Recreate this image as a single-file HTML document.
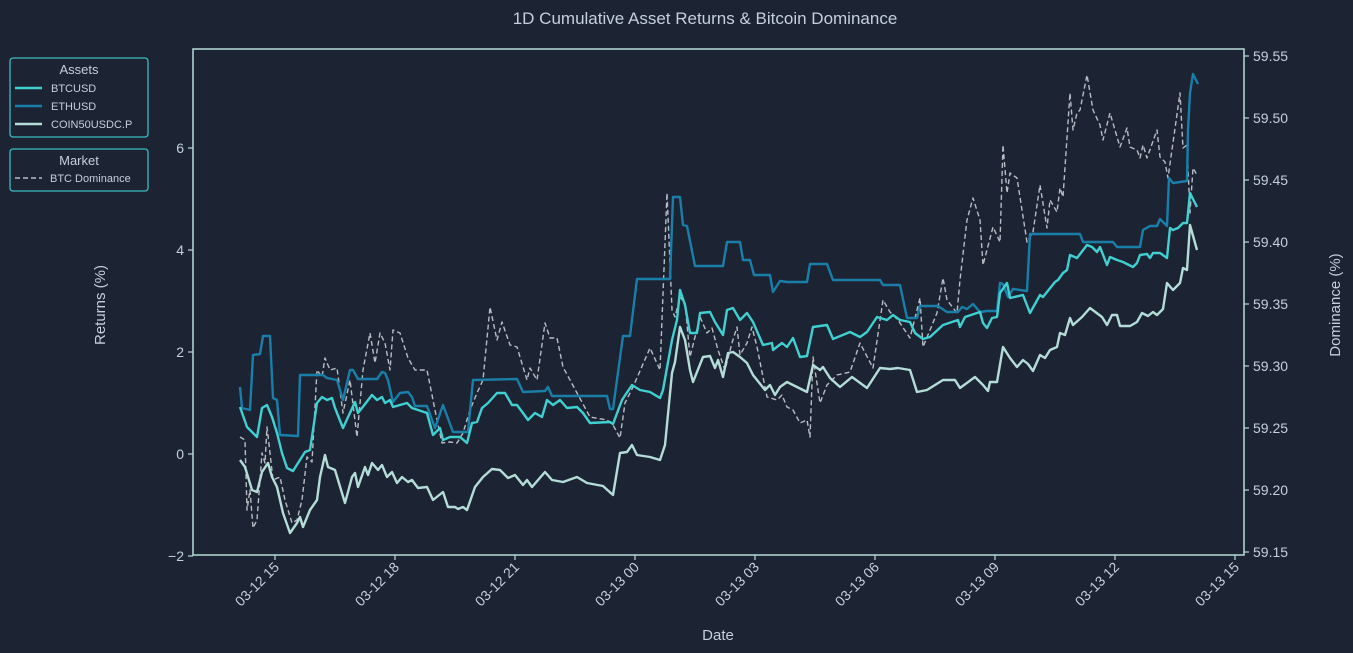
<!DOCTYPE html>
<html><head><meta charset="utf-8"><style>
body{margin:0;background:#1c2333;}
svg{display:block;font-family:"Liberation Sans",sans-serif;}
</style></head><body>
<svg width="1353" height="653" viewBox="0 0 1353 653" xmlns="http://www.w3.org/2000/svg">
<rect width="1353" height="653" fill="#1c2333"/>
<text x="705" y="24" text-anchor="middle" font-size="17" fill="#c4d0dc">1D Cumulative Asset Returns &amp; Bitcoin Dominance</text>
<!-- axes frame -->
<rect x="193" y="49" width="1051" height="506" fill="none" stroke="#b8dcd8" stroke-width="1.5"/>
<g stroke="#b8dcd8" stroke-width="1.2">
<line x1="188" y1="148" x2="193" y2="148"/><line x1="188" y1="250" x2="193" y2="250"/><line x1="188" y1="352" x2="193" y2="352"/><line x1="188" y1="454" x2="193" y2="454"/><line x1="188" y1="556" x2="193" y2="556"/>
<line x1="1244" y1="56" x2="1249" y2="56"/><line x1="1244" y1="118" x2="1249" y2="118"/><line x1="1244" y1="180" x2="1249" y2="180"/><line x1="1244" y1="242" x2="1249" y2="242"/><line x1="1244" y1="304" x2="1249" y2="304"/><line x1="1244" y1="366" x2="1249" y2="366"/><line x1="1244" y1="428" x2="1249" y2="428"/><line x1="1244" y1="490" x2="1249" y2="490"/><line x1="1244" y1="552" x2="1249" y2="552"/>
<line x1="275" y1="555" x2="275" y2="560"/><line x1="395" y1="555" x2="395" y2="560"/><line x1="515" y1="555" x2="515" y2="560"/><line x1="635" y1="555" x2="635" y2="560"/><line x1="755" y1="555" x2="755" y2="560"/><line x1="875" y1="555" x2="875" y2="560"/><line x1="995" y1="555" x2="995" y2="560"/><line x1="1115" y1="555" x2="1115" y2="560"/><line x1="1235" y1="555" x2="1235" y2="560"/>
</g>
<g font-size="14" fill="#c4d0dc" text-anchor="end">
<text x="184" y="153">6</text><text x="184" y="255">4</text><text x="184" y="357">2</text><text x="184" y="459">0</text><text x="184" y="561">−2</text>
</g>
<g font-size="14" fill="#c4d0dc">
<text x="1253" y="61">59.55</text><text x="1253" y="123">59.50</text><text x="1253" y="185">59.45</text><text x="1253" y="247">59.40</text><text x="1253" y="309">59.35</text><text x="1253" y="371">59.30</text><text x="1253" y="433">59.25</text><text x="1253" y="495">59.20</text><text x="1253" y="557">59.15</text>
</g>
<g font-size="14" fill="#c4d0dc" text-anchor="end">
<text transform="translate(280,568) rotate(-45)">03-12 15</text>
<text transform="translate(400,568) rotate(-45)">03-12 18</text>
<text transform="translate(520,568) rotate(-45)">03-12 21</text>
<text transform="translate(640,568) rotate(-45)">03-13 00</text>
<text transform="translate(760,568) rotate(-45)">03-13 03</text>
<text transform="translate(880,568) rotate(-45)">03-13 06</text>
<text transform="translate(1000,568) rotate(-45)">03-13 09</text>
<text transform="translate(1120,568) rotate(-45)">03-13 12</text>
<text transform="translate(1240,568) rotate(-45)">03-13 15</text>
</g>
<text x="718" y="640" text-anchor="middle" font-size="15" fill="#c4d0dc">Date</text>
<text transform="translate(105,305) rotate(-90)" text-anchor="middle" font-size="15" fill="#c4d0dc">Returns (%)</text>
<text transform="translate(1340,305) rotate(-90)" text-anchor="middle" font-size="15" fill="#c4d0dc">Dominance (%)</text>

<g fill="none" stroke-linejoin="round">
<polyline stroke="#b8bcc4" stroke-width="1.4" stroke-dasharray="5,3" points="240,437 245,440 247,510 250,490 253,528 257,520 262,453 265,463 267,427 270,453 273,480 280,477 285,500 292,523 297,520 302,500 307,457 312,462 317,370 322,377 325,358 330,370 337,368 343,413 350,380 357,437 363,370 370,333 375,363 380,333 385,343 390,370 393,330 400,333 408,358 415,370 427,370 437,420 442,443 450,442 457,443 463,433 470,410 477,393 483,380 490,307 497,340 502,322 510,345 517,347 527,380 530,368 537,380 545,323 550,338 557,338 563,367 577,393 590,417 607,420 613,425 620,438 625,403 633,387 650,348 660,370 667,193 672,310 675,317 680,297 685,303 690,357 700,317 707,333 712,328 718,350 725,370 732,343 737,327 740,355 747,343 752,327 757,347 767,397 777,400 782,395 787,407 793,410 800,423 807,420 810,437 813,357 820,403 827,385 837,375 850,372 860,343 873,368 883,300 890,312 898,320 910,338 920,298 923,347 937,313 943,278 947,300 957,313 960,280 967,220 973,198 980,220 983,265 993,227 1000,242 1003,145 1007,193 1010,173 1017,178 1027,242 1033,232 1040,185 1047,228 1050,200 1057,212 1060,188 1063,197 1070,93 1073,130 1077,113 1080,110 1087,75 1093,110 1100,125 1103,140 1110,113 1120,147 1127,128 1130,147 1137,150 1140,158 1143,145 1147,158 1157,130 1160,157 1165,162 1168,178 1180,93 1183,148 1187,145 1190,213 1193,168 1197,175"/>
<polyline stroke="#1a7fa8" stroke-width="2.4" points="240,387 242,408 250,410 253,355 260,354 263,336 270,336 273,398 277,400 280,435 298,436 300,375 323,375 327,378 337,380 343,400 350,370 353,370 358,379 377,379 382,372 385,373 388,380 392,398 393,402 400,393 408,392 412,397 415,406 427,406 435,428 443,405 453,432 468,432 473,380 517,379 523,392 545,391 548,387 552,396 607,396 610,409 613,409 623,336 630,336 637,279 670,279 673,197 680,197 683,225 687,226 695,266 723,266 727,242 740,242 743,260 750,260 754,275 770,275 773,292 780,281 787,282 807,282 810,264 827,264 833,280 880,280 883,285 900,285 907,318 917,318 920,306 938,306 947,312 958,312 962,307 967,309 973,304 980,312 987,311 997,311 1000,283 1003,284 1008,297 1013,289 1027,291 1030,234 1080,234 1083,242 1113,242 1117,247 1140,247 1143,230 1150,226 1157,226 1160,219 1167,226 1169,178 1173,183 1187,181 1188,130 1190,93 1193,74 1198,84"/>
<polyline stroke="#b4dcd8" stroke-width="2.4" points="240,460 245,467 252,490 257,492 262,472 268,463 272,477 277,487 283,513 290,533 297,523 300,517 303,527 310,510 317,500 320,477 325,455 328,467 335,470 345,503 352,477 355,473 358,487 365,467 368,475 372,463 378,470 382,465 387,477 392,472 397,483 402,477 408,482 412,480 418,488 427,487 433,500 443,492 448,507 455,507 458,509 463,507 467,510 475,487 483,477 492,469 500,470 508,478 515,475 523,485 527,480 532,487 545,472 552,480 563,482 577,477 587,483 603,486 613,495 620,453 627,452 632,445 637,455 650,457 660,460 665,445 672,373 675,362 680,327 685,340 690,370 693,382 703,357 710,356 715,368 718,360 723,377 728,353 733,352 740,357 747,363 753,375 765,390 770,385 775,395 780,387 787,382 797,387 807,392 813,365 820,370 823,367 830,378 840,387 852,377 867,388 880,368 890,369 898,368 910,370 917,392 927,390 943,380 955,380 960,388 975,377 983,385 988,391 990,382 997,382 1003,347 1010,358 1017,367 1023,360 1028,364 1033,371 1040,355 1045,358 1050,350 1057,347 1060,333 1065,335 1070,318 1073,325 1082,317 1090,308 1102,317 1107,325 1112,315 1117,315 1120,326 1130,326 1137,322 1142,313 1148,316 1153,312 1157,315 1163,309 1167,283 1173,290 1180,283 1183,268 1187,270 1190,225 1197,250"/>
<polyline stroke="#40d0d0" stroke-width="2.4" points="240,407 247,427 257,437 262,408 267,405 272,417 277,433 282,453 287,468 293,471 305,452 310,450 317,403 322,397 327,400 332,398 335,408 343,428 355,402 358,413 362,408 372,395 377,400 382,397 385,403 390,400 393,407 400,405 407,403 412,408 418,410 427,413 433,435 440,428 443,440 450,437 460,437 467,443 472,423 477,422 482,408 488,403 497,393 505,393 512,405 517,405 523,413 528,420 535,413 542,417 547,400 553,405 560,400 567,408 577,407 583,413 590,423 610,422 613,424 622,400 632,385 640,390 650,392 660,398 663,390 672,340 677,320 680,290 685,305 690,333 697,333 700,313 710,312 715,322 723,335 727,310 733,308 740,320 747,313 753,322 763,345 772,343 773,350 782,343 787,347 793,338 800,357 807,356 813,327 827,325 833,339 850,332 860,337 867,332 877,317 887,320 893,315 900,320 910,322 915,333 923,339 930,337 943,325 958,320 960,327 965,317 980,312 983,323 987,328 992,318 997,317 1000,293 1007,283 1010,298 1023,295 1030,313 1040,295 1043,297 1055,282 1058,280 1063,273 1067,270 1070,255 1077,258 1087,245 1092,247 1097,252 1100,247 1107,265 1110,257 1117,260 1123,262 1133,267 1137,263 1140,255 1147,254 1150,258 1153,253 1160,253 1167,258 1170,228 1173,230 1178,228 1183,223 1187,223 1190,193 1197,207"/>
</g>

<!-- legends -->
<rect x="10" y="58" width="138" height="79" rx="3" fill="#1c2333" stroke="#3cbcc0" stroke-width="1.3"/>
<text x="79" y="74" text-anchor="middle" font-size="13" fill="#c4d0dc">Assets</text>
<line x1="15" y1="88" x2="42" y2="88" stroke="#40d0d0" stroke-width="2.4"/>
<text x="51" y="92" font-size="11" fill="#c4d0dc">BTCUSD</text>
<line x1="15" y1="106" x2="42" y2="106" stroke="#1a7fa8" stroke-width="2.4"/>
<text x="51" y="110" font-size="11" fill="#c4d0dc">ETHUSD</text>
<line x1="15" y1="124" x2="42" y2="124" stroke="#b4dcd8" stroke-width="2.4"/>
<text x="51" y="128" font-size="11" fill="#c4d0dc">COIN50USDC.P</text>
<rect x="10" y="149" width="138" height="42" rx="3" fill="#1c2333" stroke="#3cbcc0" stroke-width="1.3"/>
<text x="79" y="165" text-anchor="middle" font-size="13" fill="#c4d0dc">Market</text>
<line x1="15" y1="178" x2="42" y2="178" stroke="#b8bcc4" stroke-width="1.4" stroke-dasharray="5,3"/>
<text x="50" y="182" font-size="11" fill="#c4d0dc">BTC Dominance</text>
</svg>
</body></html>
